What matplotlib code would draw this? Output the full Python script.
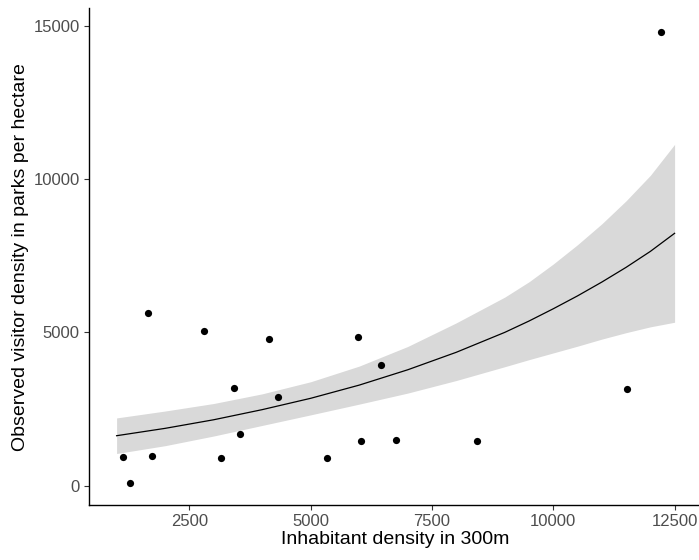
import matplotlib

matplotlib.use("Agg")
import matplotlib.pyplot as plt

plt.rcParams["font.family"] = ["Liberation Sans", "DejaVu Sans"]

# observed parks: inhabitant density (300 m buffer) vs visitor density
inhabitants = [1128, 1272, 1655, 1731, 2803, 3159, 3427, 3545, 4142, 4334,
               5344, 5976, 6032, 6444, 6765, 8434, 11525, 12213]
visitors = [946, 90, 5622, 978, 5054, 893, 3186, 1676, 4793, 2883,
            893, 4839, 1458, 3926, 1500, 1448, 3143, 14804]

# model prediction with confidence band
pred_x = [1000, 2000, 3000, 4000, 5000, 6000, 7000, 8000, 9000,
          9500, 10000, 10500, 11000, 11500, 12000, 12500]
pred_fit = [1630, 1870, 2150, 2480, 2850, 3280, 3780, 4350, 5000,
            5370, 5770, 6190, 6640, 7120, 7640, 8230]
pred_lower = [1050, 1305, 1620, 1965, 2310, 2660, 3020, 3430, 3880,
              4110, 4330, 4550, 4780, 4990, 5180, 5330]
pred_upper = [2210, 2435, 2680, 2995, 3390, 3900, 4540, 5310, 6150,
              6650, 7230, 7860, 8540, 9290, 10120, 11130]

x_ticks = [2500, 5000, 7500, 10000, 12500]
y_ticks = [0, 5000, 10000, 15000]

fig = plt.figure(figsize=(6.99, 5.6), dpi=100)
ax = fig.add_axes([88.7 / 699, 54.7 / 560, (702.5 - 88.7) / 699, (552 - 54.7) / 560])

ax.fill_between(pred_x, pred_lower, pred_upper, color="#D9D9D9", linewidth=0, zorder=1)
ax.plot(pred_x, pred_fit, color="black", linewidth=0.9, zorder=2)
ax.scatter(inhabitants, visitors, s=27, color="black", linewidths=0, zorder=3)

ax.set_xlim(425, 13075)
ax.set_ylim(-639, 15577)
ax.set_xticks(x_ticks)
ax.set_yticks(y_ticks)
ax.set_xticklabels([str(v) for v in x_ticks])
ax.set_yticklabels([str(v) for v in y_ticks])

for side in ("top", "right"):
    ax.spines[side].set_visible(False)
for side in ("left", "bottom"):
    ax.spines[side].set_linewidth(1.0)
    ax.spines[side].set_color("black")

ax.tick_params(axis="both", length=3.5, width=0.8, color="#333333",
               labelsize=12, labelcolor="#4D4D4D", pad=3)

ax.set_xlabel("Inhabitant density in 300m", fontsize=14, color="black", labelpad=1)
ax.set_ylabel("Observed visitor density in parks per hectare", fontsize=14,
              color="black", labelpad=3)

fig.savefig("out.png", dpi=100)
